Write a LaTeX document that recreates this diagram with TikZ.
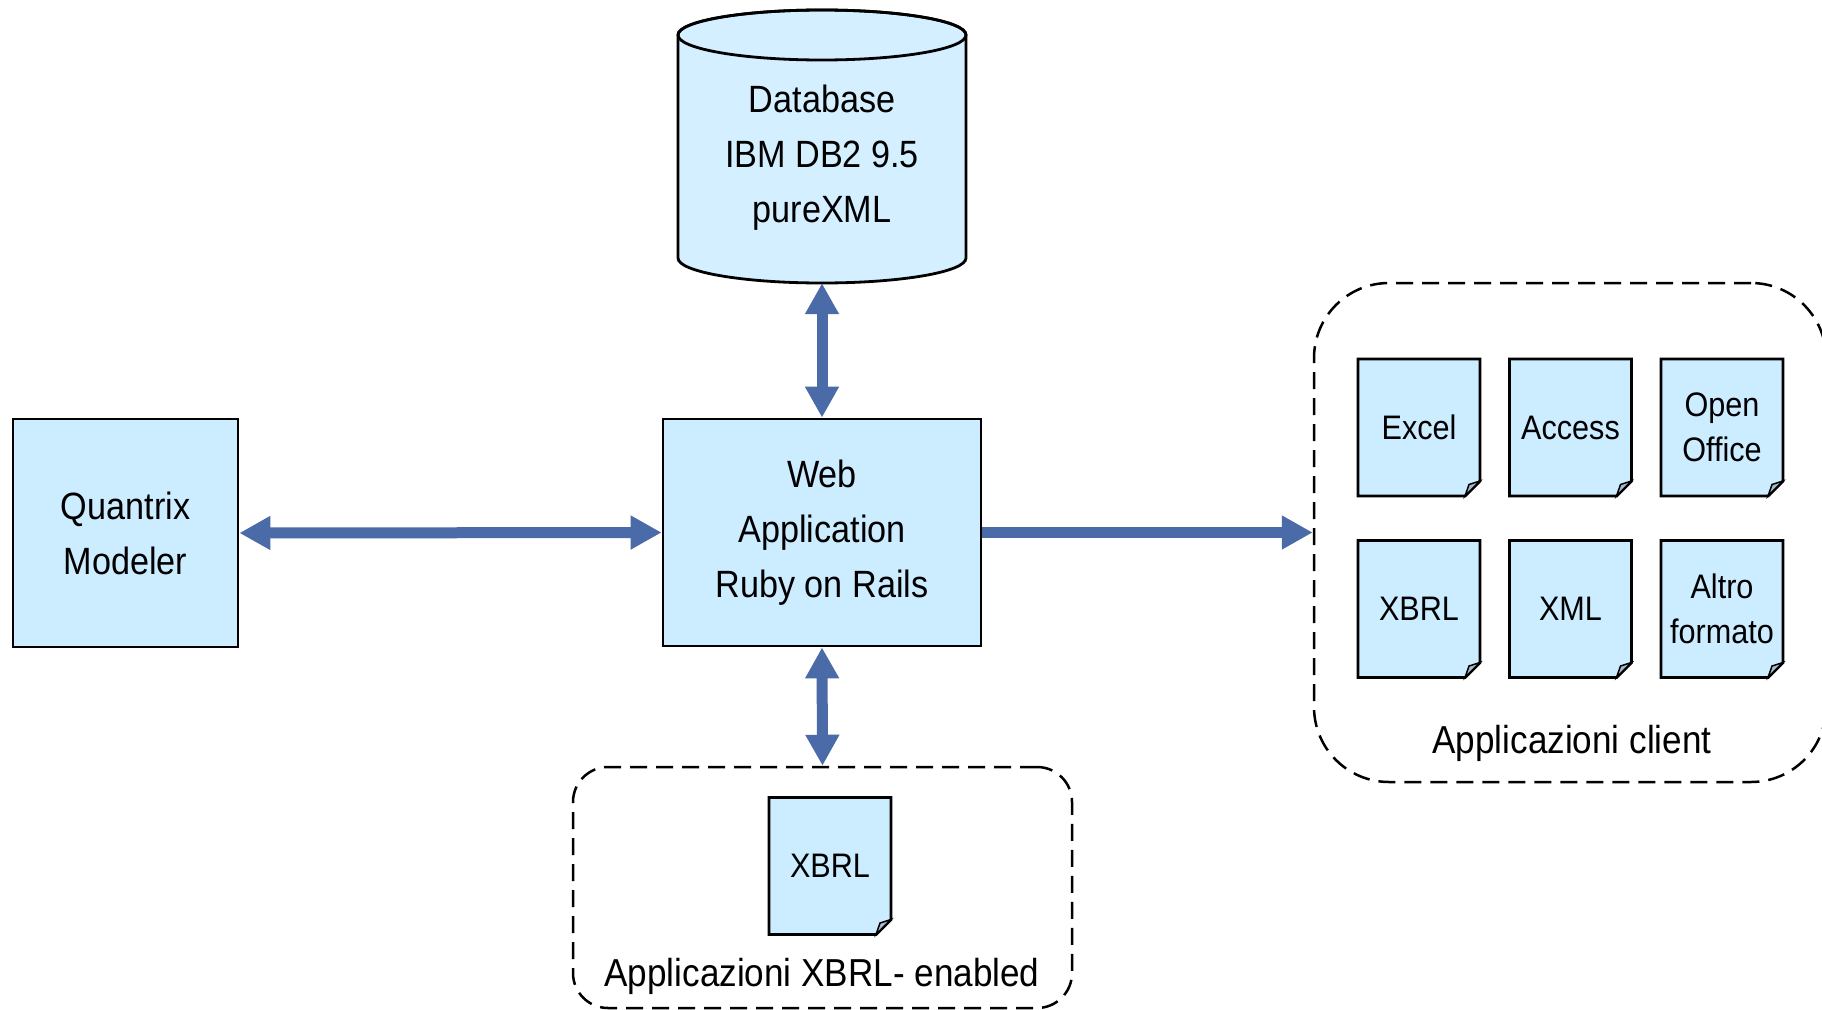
\documentclass[tikz,border=0pt]{standalone}
\usepackage{fontspec}
\setmainfont{Liberation Sans}[FakeStretch=0.9]
\usetikzlibrary{calc,arrows.meta}

\definecolor{boxblue}{RGB}{204,236,255}
\definecolor{dbblue}{RGB}{212,239,255}
\definecolor{arrowblue}{RGB}{74,106,168}
\definecolor{foldgray}{RGB}{165,185,200}

\tikzset{
	box/.style={draw, line width=2.8pt, fill=boxblue, inner sep=0pt, align=center, font=\fontsize{38}{55}\selectfont},
	docnode/.style={inner sep=0pt, minimum width=122pt, minimum height=137pt, align=center, font=\fontsize{34}{45}\selectfont},
	group/.style={draw, dash pattern=on 17pt off 9pt, line width=2.5pt, inner sep=0pt},
	grouplabel/.style={anchor=base, font=\fontsize{39}{55}\selectfont},
	link/.style={line width=11pt, arrowblue, {Triangle[length=31pt,width=32pt]}-{Triangle[length=31pt,width=32pt]}},
	flow/.style={line width=11pt, arrowblue, -{Triangle[length=31pt,width=32pt]}}
}

% document with folded corner
\newcommand{\docfile}[4]{%
	\filldraw[fill=boxblue, line width=2.8pt] (#2-61,#3+68.5) -- (#2+61,#3+68.5) -- (#2+61,#3-53.5) -- (#2+46,#3-68.5) -- (#2-61,#3-68.5) -- cycle;
	\filldraw[fill=foldgray, line width=1.5pt] (#2+46,#3-68.5) -- (#2+50,#3-57) -- (#2+61,#3-53.5) -- cycle;
	\node[docnode] (#1) at (#2,#3) {#4};
}

\begin{document}
\begin{tikzpicture}[x=1pt, y=1pt]
	\useasboundingbox (0,0) rectangle (1822,-1009);

	%groups
	\node[group, rounded corners=75pt, minimum width=512pt, minimum height=499pt] (clients) at (1570,-532.5) {};
	\node[group, rounded corners=35pt, minimum width=499pt, minimum height=241pt] (xbrlapps) at (822.5,-887.5) {};
	\node[grouplabel] (clientlabel) at (1572,-753) {Applicazioni client};
	\node[grouplabel] (xbrllabel) at (822,-986) {Applicazioni XBRL- enabled};

	%database
	\filldraw[fill=dbblue, line width=2.8pt] (678,-35) -- (678,-258) arc[start angle=180, end angle=360, x radius=144, y radius=25] -- (966,-35) arc[start angle=0, end angle=180, x radius=144, y radius=25] -- cycle;
	\draw[line width=2.8pt] (822,-35) ellipse[x radius=144, y radius=25];
	\node[inner sep=0pt, minimum width=288pt, minimum height=273pt, label={[yshift=-11.5pt, align=center, font=\fontsize{38}{55}\selectfont]center:Database\\IBM DB2 9.5\\pureXML}] (db) at (822,-146.5) {};

	%boxes
	\node[box, minimum width=225pt, minimum height=228pt] (quantrix) at (125.5,-533) {Quantrix\\Modeler};
	\node[box, minimum width=318pt, minimum height=227pt] (webapp) at (822,-532.5) {Web\\Application\\Ruby on Rails};

	%files
	\docfile{excel}{1419}{-427.5}{Excel}
	\docfile{access}{1570.5}{-427.5}{Access}
	\docfile{openoffice}{1722}{-427.5}{Open\\Office}
	\docfile{xbrl}{1419}{-609}{XBRL}
	\docfile{xml}{1570.5}{-609}{XML}
	\docfile{altro}{1722}{-609}{Altro\\formato}
	\docfile{xbrlenabled}{830}{-866}{XBRL}

	%arrows
	\draw[link] (db.south) -- (webapp.north);
	\draw[link] (quantrix.east) -- (webapp.west);
	\draw[link] (webapp.south) -- (xbrlapps.north);
	\draw[flow] (webapp.east) -- (clients.west);
\end{tikzpicture}
\end{document}
